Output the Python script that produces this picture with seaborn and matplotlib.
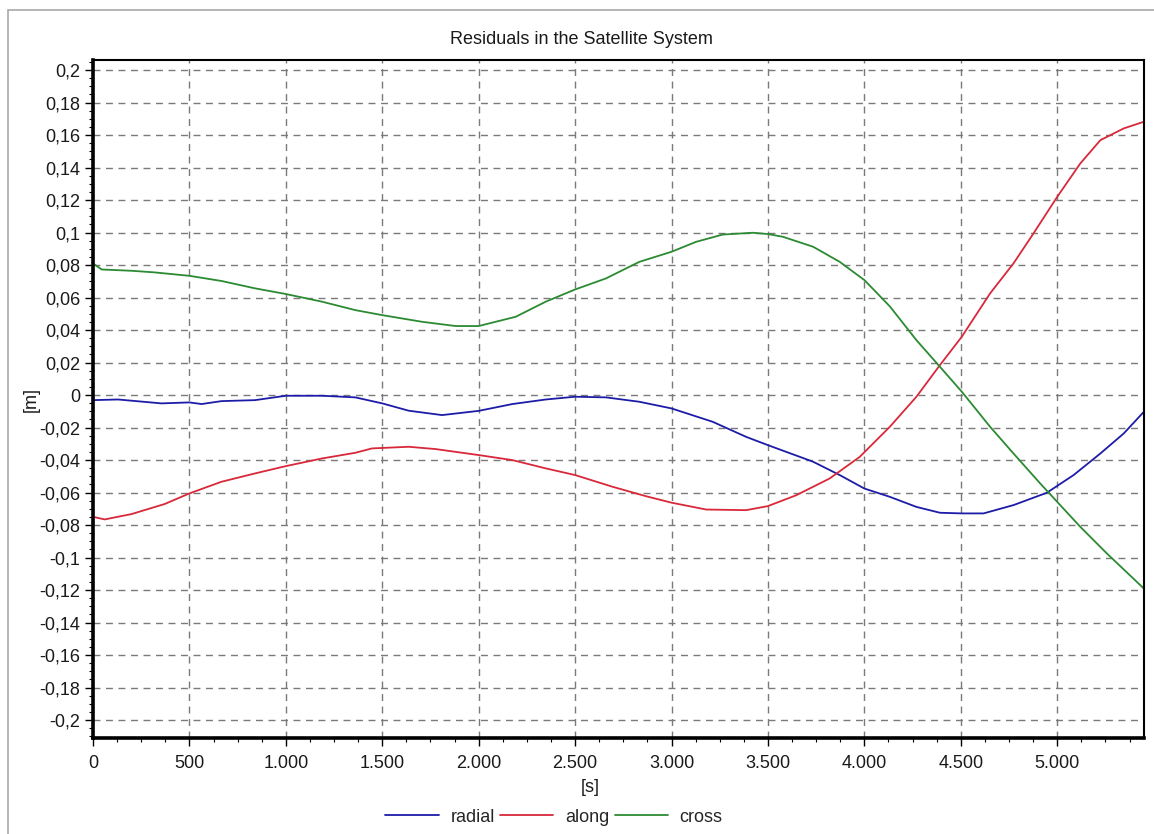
"""
Residuals in the satellite system (radial / along / cross)
"""

import numpy as np
import pandas as pd
import matplotlib
matplotlib.use('Agg')
import matplotlib.pyplot as plt
from matplotlib.ticker import FuncFormatter, MultipleLocator
from matplotlib.patches import Rectangle
import seaborn as sns

# values
t_radial = [0, 130, 355, 500, 563, 667, 840, 1000, 1187, 1360, 1500, 1637, 1810, 2000,
            2175, 2348, 2500, 2660, 2833, 3000, 3213, 3387, 3500, 3734, 3872, 4000,
            4132, 4270, 4392, 4505, 4618, 4773, 4946, 5085, 5224, 5345, 5449]
radial = [-0.0031, -0.0027, -0.0051, -0.0045, -0.0055, -0.0037, -0.0031, -0.0004, -0.0004,
          -0.0014, -0.0051, -0.0096, -0.0123, -0.0097, -0.0055, -0.0027, -0.0010, -0.0014,
          -0.0041, -0.0082, -0.0164, -0.0257, -0.0308, -0.0410, -0.0492, -0.0575, -0.0626,
          -0.0688, -0.0724, -0.0728, -0.0728, -0.0677, -0.0601, -0.0492, -0.0359, -0.0236,
          -0.0103]

t_along = [0, 61, 200, 372, 500, 667, 840, 1000, 1187, 1360, 1447, 1637, 1776, 2000, 2175,
           2348, 2500, 2694, 2867, 3000, 3179, 3387, 3500, 3647, 3820, 3976, 4132, 4270,
           4392, 4505, 4652, 4773, 4877, 5000, 5120, 5224, 5345, 5449]
along = [-0.0749, -0.0765, -0.0732, -0.0670, -0.0605, -0.0533, -0.0482, -0.0437, -0.0390,
         -0.0355, -0.0328, -0.0318, -0.0332, -0.0369, -0.0400, -0.0451, -0.0492, -0.0564,
         -0.0622, -0.0662, -0.0704, -0.0708, -0.0683, -0.0616, -0.0513, -0.0380, -0.0195,
         -0.0010, 0.0185, 0.0359, 0.0626, 0.0810, 0.0995, 0.1220, 0.1426, 0.1569, 0.1641,
         0.1682]

t_cross = [0, 45, 200, 320, 500, 667, 840, 1000, 1187, 1360, 1500, 1707, 1880, 2000, 2192,
           2348, 2500, 2660, 2833, 3000, 3127, 3266, 3422, 3500, 3578, 3734, 3872, 4000,
           4132, 4270, 4392, 4505, 4652, 4773, 4912, 5000, 5120, 5258, 5449]
cross = [0.0810, 0.0773, 0.0765, 0.0755, 0.0734, 0.0702, 0.0657, 0.0622, 0.0575, 0.0523,
         0.0492, 0.0451, 0.0425, 0.0425, 0.0482, 0.0575, 0.0650, 0.0718, 0.0820, 0.0882,
         0.0943, 0.0988, 0.0999, 0.0991, 0.0974, 0.0913, 0.0820, 0.0708, 0.0546, 0.0338,
         0.0174, 0.0021, -0.0195, -0.0359, -0.0544, -0.0657, -0.0811, -0.0975, -0.1190]

series_names = ['radial', 'along', 'cross']
series_colors = ['#1c1ca8', '#d8283a', '#2b8a32']

x_major = [0, 500, 1000, 1500, 2000, 2500, 3000, 3500, 4000, 4500, 5000]
y_major = np.round(np.arange(-0.2, 0.2001, 0.02), 2)

sns.set_theme(style='white')
plt.rcParams['font.family'] = ['Liberation Sans', 'DejaVu Sans']
FS = 13
TXT = '#1a1a1a'

fig = plt.figure(figsize=(11.54, 8.34), dpi=100)
W, H = 1154, 834
ax = fig.add_axes([93 / W, 1 - 738 / H, (1144 - 93) / W, (738 - 60) / H])

# light outer frame of the window
fig.patches.append(Rectangle((8 / W, -0.05), 1.2, 1 - 10 / H + 0.05, transform=fig.transFigure,
                             fill=False, edgecolor='#a8a8a8', linewidth=1.2))

df = pd.concat([
    pd.DataFrame({'t': t_radial, 'v': radial, 'series': 'radial'}),
    pd.DataFrame({'t': t_along, 'v': along, 'series': 'along'}),
    pd.DataFrame({'t': t_cross, 'v': cross, 'series': 'cross'}),
])

sns.lineplot(data=df, x='t', y='v', hue='series', hue_order=series_names,
             palette=series_colors, linewidth=1.3, ax=ax, legend=False)

ax.set_xlim(0, 5450)
ax.set_ylim(-0.211, 0.2062)
ax.set_xticks(x_major)
ax.set_yticks(y_major)
ax.xaxis.set_minor_locator(MultipleLocator(125))
ax.yaxis.set_minor_locator(MultipleLocator(0.005))

ax.xaxis.set_major_formatter(FuncFormatter(lambda v, p: f'{int(round(v)):,}'.replace(',', '.')))
ax.yaxis.set_major_formatter(FuncFormatter(
    lambda v, p: '0' if abs(v) < 1e-9 else f'{v:g}'.replace('.', ',')))

ax.tick_params(axis='both', which='major', direction='out', length=6, width=1,
               color='black', labelsize=FS, labelcolor=TXT, pad=3,
               bottom=True, left=True)
ax.tick_params(axis='both', which='minor', direction='out', length=3, width=0.8,
               color='black', bottom=True, left=True)
ax.tick_params(axis='x', which='major', pad=6)

ax.grid(True, which='major', linestyle=(0, (5, 4)), color='#7a7a7a', linewidth=1)
ax.set_axisbelow(True)

for side in ['left', 'bottom']:
    ax.spines[side].set_linewidth(2.6)
    ax.spines[side].set_color('black')
for side in ['top', 'right']:
    ax.spines[side].set_linewidth(1.5)
    ax.spines[side].set_color('black')
    ax.spines[side].set_visible(True)

ax.set_xlabel('')
ax.set_ylabel('')

fig.text(581 / W, 1 - 40 / H, 'Residuals in the Satellite System', ha='center', va='center',
         fontsize=FS, color=TXT)
fig.text(590 / W, 1 - 788 / H, '[s]', ha='center', va='center', fontsize=FS, color=TXT)
fig.text(31 / W, 1 - 400 / H, '[m]', ha='center', va='center', rotation=90, fontsize=FS,
         color=TXT)

handles = [plt.Line2D([], [], color=c, linewidth=1.3) for c in series_colors]
fig.legend(handles, series_names, loc='center', bbox_to_anchor=(554 / W, 1 - 817 / H),
           ncol=3, frameon=False, fontsize=FS, handlelength=2.95, handletextpad=0.65,
           columnspacing=0.3, borderpad=0)

plt.savefig('out.png', dpi=100)
